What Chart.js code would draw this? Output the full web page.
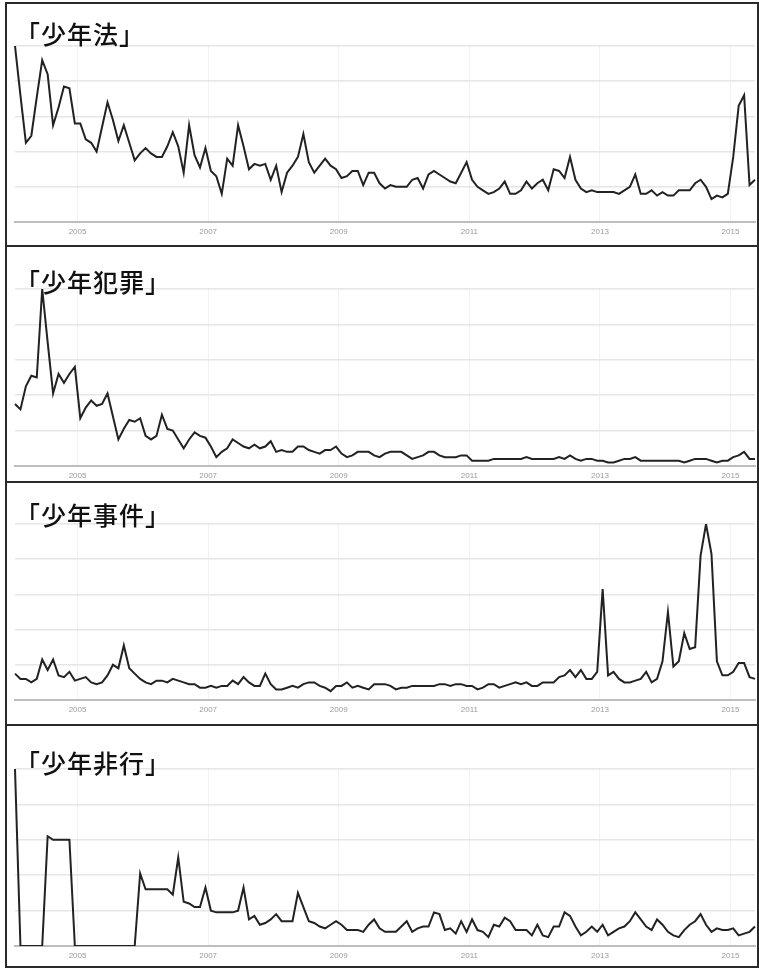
<!DOCTYPE html>
<html lang="ja">
<head>
<meta charset="UTF-8">
<title>少年 検索トレンド</title>
<script src="https://cdn.jsdelivr.net/npm/chart.js"></script>
<style>
  body { margin: 0; background: #fff; }
  #page { position: relative; width: 759px; height: 968px; overflow: hidden; background: #fff; }
  canvas { position: absolute; left: 0; }
  .title {
    position: absolute; left: 15px;
    font-family: "Noto Sans CJK JP", sans-serif;
    font-size: 25px; line-height: 25px; letter-spacing: 1px; font-weight: 500;
    color: #111; white-space: nowrap;
  }
  .frame { position: absolute; left: 5px; top: 2px; width: 754px; height: 966px; border: 2px solid #2a2a2a; box-sizing: border-box; }
  .divider { position: absolute; left: 5px; width: 754px; height: 2px; background: #2a2a2a; }
</style>
</head>
<body>
<div id="page">
  <canvas id="c1" width="759" height="243" style="top:3px"></canvas>
  <canvas id="c2" width="759" height="236" style="top:246px"></canvas>
  <canvas id="c3" width="759" height="243" style="top:482px"></canvas>
  <canvas id="c4" width="759" height="242" style="top:725px"></canvas>

  <div class="title" id="t1" style="top:21px"></div>
  <div class="title" id="t2" style="top:269px"></div>
  <div class="title" id="t3" style="top:502px"></div>
  <div class="title" id="t4" style="top:750px"></div>

  <div class="frame"></div>
  <div class="divider" style="top:245px"></div>
  <div class="divider" style="top:481px"></div>
  <div class="divider" style="top:724px"></div>
</div>

<script>
  // 月 (2004-01 〜 2015-05)
  var months = [];
  for (var y = 2004; y <= 2015; y++) {
    for (var m = 1; m <= 12; m++) {
      if (y === 2015 && m > 5) break;
      months.push(y + '-' + (m < 10 ? '0' + m : m));
    }
  }
  var yearTicks = ['2005', '2007', '2009', '2011', '2013', '2015'];
  var titles = ['「少年法」', '「少年犯罪」', '「少年事件」', '「少年非行」'];

  // 検索インデックス (0-100)
  var shonenhou = [100, 72, 45, 49, 71, 92, 84, 55, 65, 77, 76, 56, 56, 47, 45, 40, 54, 68, 58, 46,
    55, 45, 35, 39, 42, 39, 37, 37, 43, 51, 43, 28, 55, 38, 31, 42, 29, 26, 16, 36,
    32, 55, 43, 30, 33, 32, 33, 24, 32, 17, 28, 32, 37, 50, 34, 28, 32, 36, 32, 30,
    25, 26, 29, 29, 21, 28, 28, 22, 19, 21, 20, 20, 20, 24, 25, 19, 27, 29, 27, 25,
    23, 22, 28, 34, 24, 20, 18, 16, 17, 19, 23, 16, 16, 18, 23, 19, 22, 24, 18, 30,
    29, 25, 37, 24, 19, 17, 18, 17, 17, 17, 17, 16, 18, 20, 27, 16, 16, 18, 15, 17,
    15, 15, 18, 18, 18, 22, 24, 20, 13, 15, 14, 16, 37, 66, 72, 21, 24];

  var shonenHanzai = [35, 32, 45, 51, 50, 100, 70, 41, 52, 47, 52, 56, 27, 33, 37, 34, 35, 41, 28, 15,
    21, 26, 25, 27, 17, 15, 17, 29, 21, 20, 15, 10, 15, 19, 17, 16, 11, 5, 8, 10,
    15, 13, 11, 10, 12, 10, 11, 14, 8, 9, 8, 8, 11, 11, 9, 8, 7, 9, 9, 11,
    7, 5, 6, 8, 8, 8, 6, 5, 7, 8, 8, 8, 6, 4, 5, 6, 8, 8, 6, 5,
    5, 5, 6, 6, 3, 3, 3, 3, 4, 4, 4, 4, 4, 4, 5, 4, 4, 4, 4, 4,
    5, 4, 6, 4, 3, 4, 4, 3, 3, 2, 2, 3, 4, 4, 5, 3, 3, 3, 3, 3,
    3, 3, 3, 2, 3, 4, 4, 4, 3, 2, 3, 3, 5, 6, 8, 4, 4];

  var shonenJiken = [15, 12, 12, 10, 12, 23, 17, 23, 14, 13, 16, 11, 12, 13, 10, 9, 10, 14, 20, 18,
    31, 18, 15, 12, 10, 9, 11, 11, 10, 12, 11, 10, 9, 9, 7, 7, 8, 7, 8, 8,
    11, 9, 13, 10, 8, 8, 15, 9, 6, 6, 7, 8, 7, 9, 10, 10, 8, 7, 5, 8,
    8, 10, 7, 8, 7, 6, 9, 9, 9, 8, 6, 7, 7, 8, 8, 8, 8, 8, 9, 9,
    8, 9, 9, 8, 8, 6, 7, 9, 9, 7, 8, 9, 10, 9, 10, 8, 8, 10, 10, 10,
    13, 14, 17, 13, 17, 12, 12, 16, 63, 14, 16, 12, 10, 10, 11, 12, 16, 10, 12, 22,
    50, 19, 22, 38, 29, 30, 82, 100, 83, 22, 14, 14, 16, 21, 21, 13, 12];

  var shonenHikou = [100, 0, 0, 0, 0, 0, 62, 60, 60, 60, 60, 0, 0, 0, 0, 0, 0, 0, 0, 0,
    0, 0, 0, 41, 32, 32, 32, 32, 32, 29, 50, 25, 24, 22, 22, 33, 20, 19, 19, 19,
    19, 20, 33, 15, 17, 12, 13, 15, 18, 14, 14, 14, 30, 22, 14, 13, 11, 10, 12, 14,
    12, 9, 9, 9, 8, 12, 15, 10, 8, 8, 8, 11, 14, 8, 10, 11, 11, 19, 18, 9,
    10, 7, 14, 8, 15, 9, 8, 5, 12, 11, 16, 14, 9, 9, 9, 6, 12, 6, 5, 11,
    11, 19, 17, 11, 6, 8, 11, 8, 12, 6, 8, 10, 11, 14, 19, 15, 11, 9, 15, 12,
    8, 6, 5, 9, 12, 14, 18, 12, 8, 10, 9, 9, 10, 6, 7, 8, 11];

  // 年ラベルの位置 (1月の手前)
  var tickPos = yearTicks.map(function (yr) { return months.indexOf(yr + '-01') - 0.5; });

  function makeChart(id, values, padTop, padBottom) {
    var ctx = document.getElementById(id).getContext('2d');
    return new Chart(ctx, {
      type: 'line',
      data: {
        labels: months,
        datasets: [{
          data: values,
          borderColor: '#222222',
          borderWidth: 2,
          pointRadius: 0,
          tension: 0,
          fill: false
        }]
      },
      options: {
        responsive: false,
        animation: false,
        devicePixelRatio: 1,
        layout: { padding: { left: 15, right: 4, top: padTop, bottom: padBottom } },
        plugins: { legend: { display: false }, tooltip: { enabled: false } },
        scales: {
          x: {
            type: 'category',
            offset: false,
            afterBuildTicks: function (scale) {
              scale.ticks = tickPos.map(function (v) { return { value: v }; });
            },
            afterFit: function (scale) { scale.height = 12; },
            grid: { color: '#f2f2f2', lineWidth: 1, drawTicks: false },
            border: { color: '#bdbdbd', width: 2 },
            ticks: {
              autoSkip: false,
              maxRotation: 0,
              minRotation: 0,
              padding: 5,
              color: '#9a9a9a',
              font: { size: 8, family: 'Liberation Sans, Arial, sans-serif' },
              callback: function (value, index) { return yearTicks[index]; }
            }
          },
          y: {
            min: 0,
            max: 100,
            afterFit: function (scale) { scale.width = 0; },
            grid: { color: '#e6e6e6', lineWidth: 1.5, drawTicks: false },
            border: { display: false },
            ticks: { display: false, stepSize: 20 }
          }
        }
      }
    });
  }

  makeChart('c1', shonenhou, 43, 12);
  makeChart('c2', shonenHanzai, 43, 4);
  makeChart('c3', shonenJiken, 42, 13);
  makeChart('c4', shonenHikou, 44, 9);

  document.getElementById('t1').textContent = titles[0];
  document.getElementById('t2').textContent = titles[1];
  document.getElementById('t3').textContent = titles[2];
  document.getElementById('t4').textContent = titles[3];
</script>
</body>
</html>
